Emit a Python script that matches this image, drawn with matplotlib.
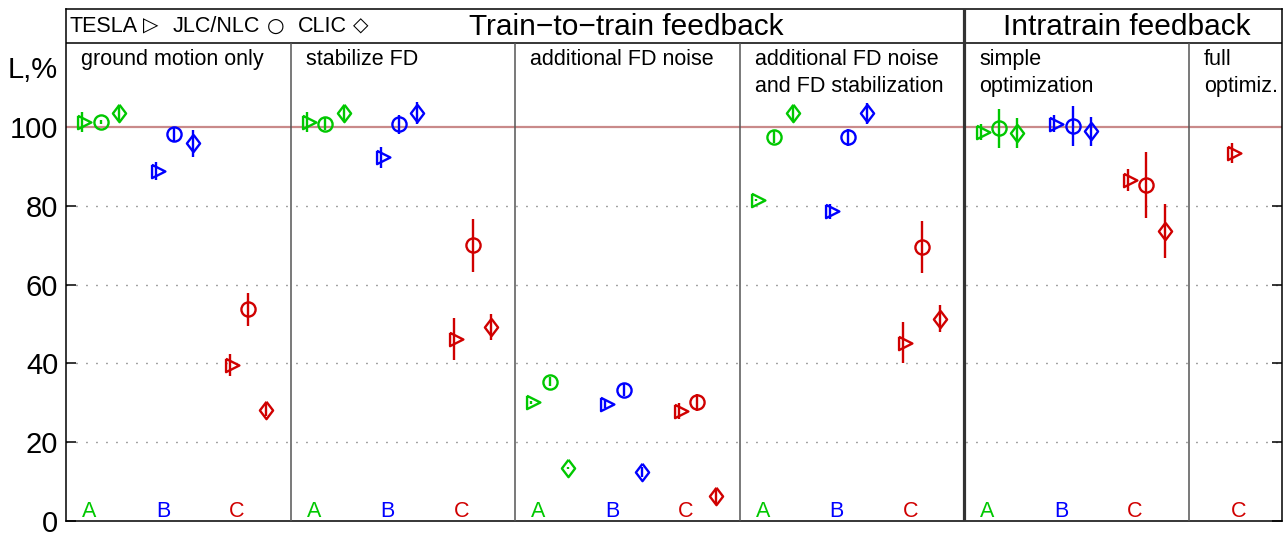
import matplotlib
matplotlib.use("Agg")
import matplotlib.pyplot as plt

plt.rcParams['font.family'] = ['Liberation Sans', 'DejaVu Sans']
plt.rcParams['lines.scale_dashes'] = False

# ---------------------------------------------------------------- data
panel_titles = ["ground motion only", "stabilize FD", "additional FD noise",
                "additional FD noise\nand FD stabilization",
                "simple\noptimization", "full\noptimiz."]
group_labels = ["A", "B", "C"]
group_colors = ["#00c800", "#0000ff", "#d00000"]

# luminosity L (% of nominal) per panel, for groups A, B, C (None = not shown)
tesla_L   = [[101.3, 88.8, 39.6], [101.3, 92.3, 46.2], [30.1, 29.7, 28.0],
             [81.5, 78.7, 45.3], [98.8, 100.9, 86.5], [None, None, 93.5]]
tesla_err = [[2.5, 2.3, 2.8], [2.5, 2.7, 5.3], [0.3, 1.0, 2.0],
             [0.3, 1.9, 5.2], [2.1, 2.1, 2.8], [None, None, 2.6]]
nlc_L     = [[101.2, 98.3, 53.8], [100.7, 100.7, 70.0], [35.4, 33.2, 30.1],
             [97.4, 97.4, 69.6], [99.7, 100.3, 85.4], [None, None, None]]
nlc_err   = [[0.5, 1.8, 4.2], [1.5, 2.5, 6.8], [1.2, 1.5, 2.2],
             [1.5, 2.2, 6.6], [4.9, 5.1, 8.4], [None, None, None]]
clic_L    = [[103.7, 95.9, 28.1], [103.5, 103.5, 49.3], [13.4, 12.4, 6.4],
             [103.5, 103.5, 51.4], [98.6, 99.0, 73.6], [None, None, None]]
clic_err  = [[2.0, 3.4, 1.5], [1.8, 2.8, 3.3], [0.3, 1.2, 2.0],
             [2.0, 2.7, 3.5], [3.8, 3.7, 6.9], [None, None, None]]

yticks = [0, 20, 40, 60, 80, 100]

# ---------------------------------------------------------------- layout
PANEL_W = 224.6
panel_left = [i * PANEL_W for i in range(6)]
group_step = 73.7
group_first = [16.2] * 5 + [43.0 - 2 * group_step]
machine_step = 18.4
HEADER_Y = 121.3
LINE_GAP = 6.8          # caption line spacing in data units

tri = [(-1 / 3, 0.5), (2 / 3, 0.0), (-1 / 3, -0.5), (-1 / 3, 0.5)]
dia = [(0.0, 1.0), (0.76, 0.0), (0.0, -1.0), (-0.76, 0.0), (0.0, 1.0)]
machines = [(tesla_L, tesla_err, tri, 12.8, 0),
            (nlc_L, nlc_err, "o", 10.2, 1),
            (clic_L, clic_err, dia, 12.5, 2)]

fig = plt.figure(figsize=(12.87, 5.36), dpi=100)
ax = fig.add_axes([66 / 1287, 15 / 536, 1216 / 1287, 512 / 536])
ax.set_xlim(0, 1216)
ax.set_ylim(0, 130)

# reference line at nominal luminosity
ax.axhline(100, color="#c98a8a", lw=1.6, zorder=2)

for vals, errs, marker, ms, mi in machines:
    for p in range(6):
        for g in range(3):
            v = vals[p][g]
            if v is None:
                continue
            x = panel_left[p] + group_first[p] + g * group_step + mi * machine_step
            c = group_colors[g]
            ax.errorbar([x], [v], yerr=[errs[p][g]], fmt="none", ecolor=c,
                        elinewidth=1.7, capsize=0, zorder=4)
            ax.plot([x], [v], linestyle="none", marker=marker, ms=ms,
                    mfc="none", mec=c, mew=1.7, zorder=5)

# group letters at the bottom of each panel
for p in range(6):
    for g in range(3):
        if tesla_L[p][g] is None:
            continue
        x = panel_left[p] + group_first[p] + g * group_step + 7
        ax.text(x, 0.9, group_labels[g], color=group_colors[g], fontsize=15.5,
                ha="center", va="baseline")

# panel captions, one text per line
for p in range(6):
    for k, line in enumerate(panel_titles[p].split("\n")):
        ax.text(panel_left[p] + 15, 115.8 - k * LINE_GAP, line, fontsize=15.5,
                ha="left", va="baseline")

# frame: header band and panel dividers
ax.axhline(HEADER_Y, color="black", lw=1.1, zorder=3)
ax.vlines([panel_left[1], panel_left[2], panel_left[3], panel_left[5]],
          0, HEADER_Y, color="#555555", lw=1.1, zorder=3)
ax.vlines([panel_left[4]], 0, 130, color="#333333", lw=2.3, zorder=3)

# section headings
ax.text(560, 123.4, "Train\u2212to\u2212train feedback", fontsize=21.5,
        ha="center", va="baseline")
ax.text(1061, 123.4, "Intratrain feedback", fontsize=21.5,
        ha="center", va="baseline")

# symbol key
key_items = [(3, "TESLA"), (77, "\u25b7"), (107, "JLC/NLC"), (201, "\u25cb"),
             (232, "CLIC"), (287, "\u25c7")]
for x, s in key_items:
    fam = ["DejaVu Sans"] if len(s) == 1 else ["Liberation Sans", "DejaVu Sans"]
    ax.text(x, 124.2, s, fontsize=15.5 if len(s) > 1 else 14.5, family=fam,
            ha="left", va="baseline")

# axes styling
ax.set_xticks([])
ax.set_yticks(yticks)
ax.set_yticklabels([str(t) for t in yticks])
ax.tick_params(axis="y", direction="in", length=7.5, width=1.1, right=True,
               labelsize=21, pad=5.5)
for s in ax.spines.values():
    s.set_linewidth(1.1)
    s.set_color("black")
for yv in yticks[1:-1]:
    ax.axhline(yv, color="#444444", lw=1.0, linestyle=(0, (0.7, 6.5)), zorder=1)

fig.text(8 / 1287, 1 - 78 / 536, "L,%", fontsize=21, ha="left", va="baseline")

fig.savefig("out.png", dpi=100)
